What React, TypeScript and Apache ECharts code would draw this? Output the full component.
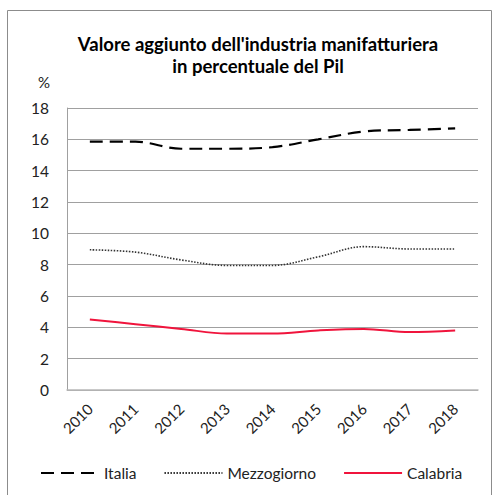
import React, { useEffect, useRef } from "react";
import * as echarts from "echarts";

const years = ["2010", "2011", "2012", "2013", "2014", "2015", "2016", "2017", "2018"];
const italia = [15.85, 15.85, 15.4, 15.4, 15.5, 16.0, 16.5, 16.6, 16.7];
const mezzogiorno = [8.95, 8.8, 8.3, 7.95, 7.95, 8.5, 9.15, 9.0, 9.0];
const calabria = [4.5, 4.2, 3.9, 3.6, 3.6, 3.8, 3.9, 3.7, 3.8];

const FONT = "Lato, 'Open Sans', sans-serif";

export default function App() {
  const ref = useRef<HTMLDivElement>(null);
  useEffect(() => {
    if (!ref.current) return;
    const chart = echarts.init(ref.current, undefined, { renderer: "svg" });
    chart.setOption({
      animation: false,
      backgroundColor: "#ffffff",
      title: {
        text: "Valore aggiunto dell'industria manifatturiera\nin percentuale del Pil",
        left: 253,
        textAlign: "center",
        top: 28,
        textStyle: {
          fontFamily: FONT,
          fontSize: 18.5,
          fontWeight: "bold",
          color: "#000",
          lineHeight: 22,
        },
      },
      graphic: [
        {
          type: "rect",
          shape: { x: 7.5, y: 10.5, width: 484, height: 500 },
          style: { fill: "none", stroke: "#8c8c8c", lineWidth: 1 },
          silent: true,
        },
        {
          type: "text",
          x: 44,
          y: 82,
          style: {
            text: "%",
            fontFamily: FONT,
            fontSize: 15,
            fill: "#222",
            align: "center",
            verticalAlign: "middle",
          },
        },
      ],
      grid: { left: 67, right: 18, top: 108, bottom: 105, containLabel: false },
      legend: {
        left: 35,
        top: 460,
        itemWidth: 58,
        itemHeight: 14,
        itemGap: 27,
        itemStyle: { opacity: 0 },
        textStyle: { fontFamily: FONT, fontSize: 15.5, color: "#222" },
        data: ["Italia", "Mezzogiorno", "Calabria"],
      },
      xAxis: {
        type: "category",
        data: years,
        boundaryGap: true,
        axisLine: { show: true, lineStyle: { color: "#b8b8b8", width: 1.5 } },
        axisTick: { show: false },
        axisLabel: {
          rotate: 45,
          fontFamily: FONT,
          fontSize: 15,
          color: "#222",
          margin: 16,
        },
      },
      yAxis: {
        type: "value",
        min: 0,
        max: 18,
        interval: 2,
        axisLine: { show: true, lineStyle: { color: "#a0a0a0", width: 1 } },
        axisTick: { show: false },
        splitLine: { show: true, lineStyle: { color: "#a0a0a0", width: 1 } },
        axisLabel: {
          fontFamily: FONT,
          fontSize: 15.5,
          color: "#222",
          margin: 18,
        },
      },
      series: [
        {
          name: "Italia",
          type: "line",
          data: italia,
          smooth: 0.35,
          symbol: "none",
          lineStyle: { color: "#000", width: 2.2, type: [13, 7] },
          itemStyle: { color: "#000" },
        },
        {
          name: "Mezzogiorno",
          type: "line",
          data: mezzogiorno,
          smooth: 0.35,
          symbol: "none",
          lineStyle: { color: "#333", width: 1.6, type: [1.5, 1.5] },
          itemStyle: { color: "#333" },
        },
        {
          name: "Calabria",
          type: "line",
          data: calabria,
          smooth: 0.35,
          symbol: "none",
          lineStyle: { color: "#f0143c", width: 2 },
          itemStyle: { color: "#f0143c" },
        },
      ],
    });
    return () => chart.dispose();
  }, []);
  return (
    <div
      ref={ref}
      style={{ position: "fixed", left: 0, top: 0, width: 496, height: 495 }}
    />
  );
}
